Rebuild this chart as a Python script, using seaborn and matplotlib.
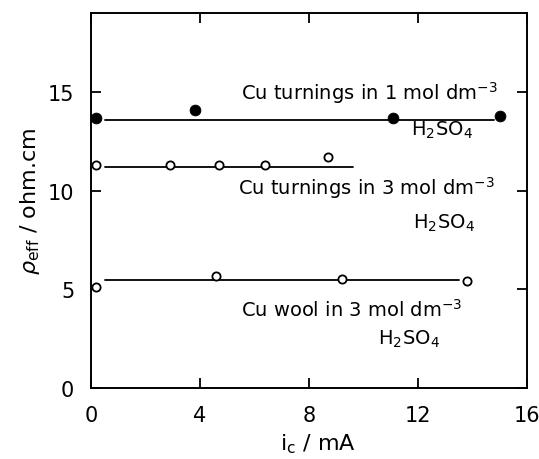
import matplotlib
matplotlib.use("Agg")
import matplotlib.pyplot as plt
import seaborn as sns
import pandas as pd

sns.set_theme(style="ticks")
plt.rcParams['font.family'] = ['DejaVu Sans']
plt.rcParams['mathtext.fontset'] = 'dejavusans'
plt.rcParams['text.color'] = 'black'
plt.rcParams['axes.labelcolor'] = 'black'
plt.rcParams['xtick.color'] = 'black'
plt.rcParams['ytick.color'] = 'black'

# Data
ic_1M_turn = [0.2, 3.8, 11.1, 15.0]
rho_1M_turn = [13.7, 14.1, 13.7, 13.8]
ic_3M_turn = [0.2, 2.9, 4.7, 6.4, 8.7]
rho_3M_turn = [11.3, 11.3, 11.3, 11.3, 11.7]
ic_3M_wool = [0.2, 4.6, 9.2, 13.8]
rho_3M_wool = [5.1, 5.7, 5.5, 5.4]

# Fitted horizontal lines: (x_start, x_end, level)
fit_1M_turn = ([0.5, 14.8], [13.6, 13.6])
fit_3M_turn = ([0.5, 9.6], [11.2, 11.2])
fit_3M_wool = ([0.5, 13.5], [5.45, 5.45])

labels = ["Cu turnings in 1 mol dm$^{-3}$",
          "Cu turnings in 3 mol dm$^{-3}$",
          "Cu wool in 3 mol dm$^{-3}$"]
acid = "H$_2$SO$_4$"

x_ticks = [0, 4, 8, 12, 16]
y_ticks = [0, 5, 10, 15]

fig = plt.figure(figsize=(5.39, 4.60), dpi=100)
ax = fig.add_axes([91/539, 1-389/460, (527-91)/539, (389-14)/460])

for fx, fy in [fit_1M_turn, fit_3M_turn, fit_3M_wool]:
    ax.plot(fx, fy, color='black', lw=1.3, zorder=1)

df1 = pd.DataFrame({"x": ic_1M_turn, "y": rho_1M_turn})
df2 = pd.DataFrame({"x": ic_3M_turn, "y": rho_3M_turn})
df3 = pd.DataFrame({"x": ic_3M_wool, "y": rho_3M_wool})

sns.scatterplot(data=df1, x="x", y="y", ax=ax, s=60, color='black',
                edgecolor='black', zorder=3)
for d in (df2, df3):
    sns.scatterplot(data=d, x="x", y="y", ax=ax, s=35, facecolor='white',
                    edgecolor='black', linewidth=1.3, zorder=3)

ax.set_xlim(0, 16)
ax.set_ylim(0, 19)
ax.set_xticks(x_ticks)
ax.set_yticks(y_ticks)
ax.tick_params(direction='in', length=7, width=1.3, labelsize=15,
               top=True, right=True)
ax.tick_params(axis='y', pad=12)
ax.tick_params(axis='x', pad=12)
for s in ax.spines.values():
    s.set_linewidth(1.4)
    s.set_color('black')

ax.set_xlabel("i$_\\mathrm{c}$ / mA", fontsize=16)
ax.set_ylabel("$\\rho_\\mathrm{eff}$ / ohm.cm", fontsize=16, labelpad=4)
ax.xaxis.set_label_coords(0.52, -0.115)

fs = 14
ax.text(5.5, 15.0, labels[0], fontsize=fs, ha='left', va='center')
ax.text(11.75, 13.1, acid, fontsize=fs, ha='left', va='center')
ax.text(5.4, 10.2, labels[1], fontsize=fs, ha='left', va='center')
ax.text(11.8, 8.4, acid, fontsize=fs, ha='left', va='center')
ax.text(5.5, 4.0, labels[2], fontsize=fs, ha='left', va='center')
ax.text(10.55, 2.5, acid, fontsize=fs, ha='left', va='center')

fig.savefig("out.png", dpi=100)
